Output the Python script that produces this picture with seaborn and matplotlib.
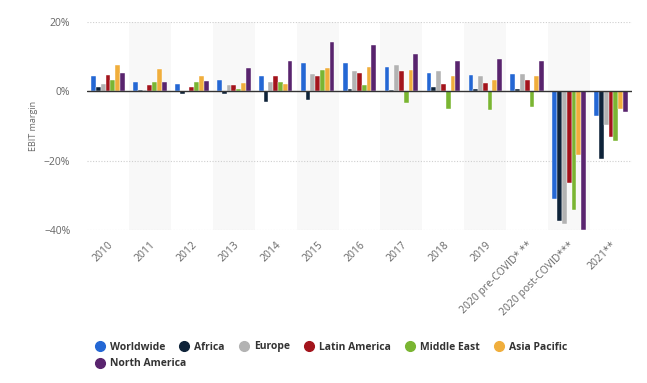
import pandas as pd
import matplotlib
matplotlib.use("Agg")
import matplotlib.pyplot as plt
from matplotlib.lines import Line2D
from matplotlib.ticker import FuncFormatter
import seaborn as sns

# Chart data (EBIT margin in %)
periods = ["2010", "2011", "2012", "2013", "2014", "2015", "2016", "2017", "2018",
           "2019", "2020 pre-COVID* **", "2020 post-COVID***", "2021**"]
regions = ["Worldwide", "Africa", "Europe", "Latin America", "Middle East",
           "Asia Pacific", "North America"]

worldwide     = [4.5, 2.8, 2.2, 3.2, 4.3, 8.3, 8.1, 7.0, 5.3, 4.7, 5.0, -31.2, -7.2]
africa        = [1.2, 0.3, -0.7, -0.7, -3.0, -2.4, 0.7, 0.5, 1.2, 0.7, 0.7, -37.4, -19.4]
europe        = [2.0, 0.5, 0.2, 1.7, 2.8, 4.9, 5.8, 7.5, 5.8, 4.5, 5.0, -38.2, -9.8]
latin_america = [4.7, 1.7, 1.2, 1.7, 4.5, 4.4, 5.3, 5.8, 2.2, 2.5, 3.2, -26.3, -13.3]
middle_east   = [3.2, 2.8, 2.8, 0.6, 2.8, 6.1, 1.7, -3.3, -5.0, -5.5, -4.5, -34.3, -14.4]
asia_pacific  = [7.5, 6.3, 4.3, 2.5, 2.0, 6.6, 7.0, 6.1, 4.3, 3.2, 4.3, -18.5, -5.0]
north_america = [5.3, 2.8, 3.1, 6.6, 8.8, 14.1, 13.3, 10.8, 8.8, 9.3, 8.8, -40.1, -6.0]

colors = ["#2467d4", "#0e2339", "#b3b3b3", "#a3141c", "#7ab532", "#f0ae3c", "#59246e"]

series = [worldwide, africa, europe, latin_america, middle_east, asia_pacific, north_america]
rows = []
for reg, vals in zip(regions, series):
    for p, v in zip(periods, vals):
        rows.append({"period": p, "region": reg, "value": v})
df = pd.DataFrame(rows)

sns.set_style("white")
plt.rcParams["font.family"] = ["Open Sans", "DejaVu Sans"]

fig = plt.figure(figsize=(6.47, 3.83), dpi=100)
ax = fig.add_axes([87 / 647, 1 - 230 / 383, 545 / 647, 208 / 383])

# alternating background bands
for i in range(len(periods)):
    if i % 2 == 1:
        ax.axvspan(i - 0.5, i + 0.5, color="#f8f8f8", zorder=0, lw=0)

sns.barplot(data=df, x="period", y="value", hue="region", order=periods,
            hue_order=regions, palette=colors, saturation=1, errorbar=None,
            width=0.8, edgecolor="white", linewidth=0.3, ax=ax, legend=False,
            zorder=3)

for y in [20, -20, -40]:
    ax.axhline(y, color="#cfcfcf", lw=0.8, ls=(0, (1, 1.5)), zorder=1)
ax.axhline(0, color="#333333", lw=1.0, zorder=4)

ax.set_xlim(-0.5, len(periods) - 0.5)
ax.set_ylim(-40, 20)
ax.set_yticks([20, 0, -20, -40])
ax.yaxis.set_major_formatter(FuncFormatter(lambda v, _: f"{int(v)}%".replace("-", "\u2212")))
for s in ax.spines.values():
    s.set_visible(False)
ax.tick_params(axis="y", length=0, pad=12, labelsize=7.5, labelcolor="#666666")
ax.tick_params(axis="x", length=0, pad=7, labelsize=7.5, labelcolor="#666666")
plt.setp(ax.get_xticklabels(), rotation=45, ha="right", rotation_mode="anchor")

ax.set_xlabel("")
ax.set_ylabel("EBIT margin", fontsize=6.5, color="#666666")
ax.yaxis.set_label_coords(-0.09, 0.5)

# legend: first row of six, second row with North America
handles = [Line2D([0], [0], marker="o", ls="", markersize=7, color=c) for c in colors]
leg1 = fig.legend(handles[:6], regions[:6], ncol=6, loc="center left",
                  bbox_to_anchor=(84 / 647, 1 - 347 / 383), frameon=False,
                  handletextpad=0.35, columnspacing=1.25, handlelength=1.2,
                  prop={"size": 7.5, "weight": "bold"})
leg2 = fig.legend(handles[6:], regions[6:], loc="center left",
                  bbox_to_anchor=(84 / 647, 1 - 364 / 383), frameon=False,
                  handletextpad=0.35, handlelength=1.2,
                  prop={"size": 7.5, "weight": "bold"})
for leg in (leg1, leg2):
    for t in leg.get_texts():
        t.set_color("#333333")

fig.savefig("out.png", dpi=100)
